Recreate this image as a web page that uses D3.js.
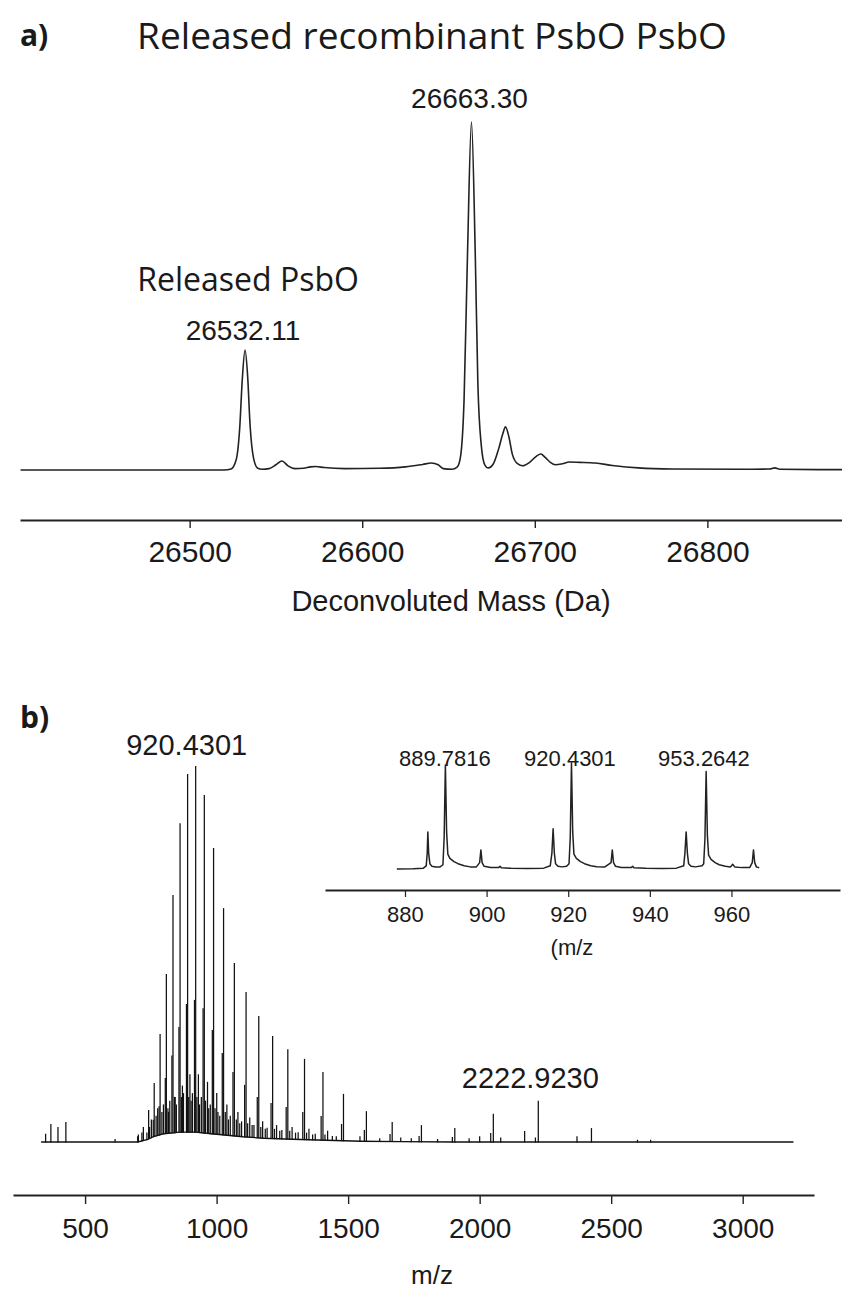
<!DOCTYPE html>
<html>
<head>
<meta charset="utf-8">
<script src="https://cdn.jsdelivr.net/npm/d3@7"></script>
<style>
  body { margin: 0; background: #fff; }
  text { fill: #1a1a1a; }
  .num { font-family: "Liberation Sans", Arial, sans-serif; }
  .cal { font-family: "Open Sans", sans-serif; }
  .axis path, .axis line { stroke: #222; }
</style>
</head>
<body>
<div id="chart"></div>
<script>
// ---- Panel a: deconvoluted spectrum, profile [mass Da, rel. intensity]
const profileA = [
  [26402, 0], [26520, 0], [26524, 0.3], [26527, 3], [26529, 12], [26530.5, 26], [26532.1, 34.5],
  [26533.6, 27], [26535, 13], [26537, 3.5], [26539.5, 0.5], [26542, 0.2], [26546, 0.4], [26550, 1.5],
  [26553.5, 2.6], [26557, 1.2], [26561, 0.4], [26566, 0.5], [26570, 0.9], [26573, 1.0], [26578, 0.7],
  [26590, 0.4], [26610, 0.5], [26625, 0.9], [26635, 1.6], [26640, 2.0], [26644, 1.5], [26647, 0.4],
  [26652, 0.2], [26655, 0.8], [26657, 4], [26659, 20], [26661, 62], [26663.3, 100], [26665.5, 62],
  [26667, 25], [26669, 7], [26671, 1.5], [26673, 0.6], [26676, 1.8], [26679, 6], [26681.5, 10.5],
  [26683, 12.4], [26685, 9.5], [26687, 4.5], [26690, 1.8], [26693, 1.2], [26697, 2.2], [26701, 4],
  [26703.5, 4.6], [26706, 3.6], [26709, 2.2], [26712, 1.5], [26716, 1.8], [26720, 2.3], [26726, 2.2],
  [26735, 2.0], [26745, 1.3], [26760, 0.6], [26780, 0.3], [26820, 0.2], [26836, 0.3], [26839, 0.6],
  [26842, 0.2], [26878, 0.1]
];
const ticksA = [26500, 26600, 26700, 26800];
const peakLabelsA = ["26532.11", "26663.30"];
const peakMassA = [26532.11, 26663.30];

// ---- Panel b: ESI spectrum as sticks [m/z] / [rel. intensity]
const mainMz = [702.7, 721.6, 741.6, 762.8, 785.2, 809.0, 834.2, 861.1, 889.78, 920.43, 953.26, 988.5,
  1026.5, 1067.5, 1112.0, 1160.3, 1213.0, 1270.7, 1334.2, 1404.3, 1482.3, 1569.4, 1667.5, 1778.6,
  1905.5, 2052.0, 2222.92, 2425.0];
const mainInt = [2, 4, 8.5, 15.7, 28.7, 44.7, 65.7, 84.8, 97.9, 100, 92.3, 78.2, 62.2, 47.6, 39.9,
  33.5, 28.2, 24.7, 22.1, 18.6, 12.8, 8.2, 5.3, 4.5, 3.7, 7.5, 11, 3.7];
const secondMz = [759.1, 781.4, 805.0, 830.1, 856.9, 885.4, 915.9, 948.6, 983.7, 1021.5, 1062.3,
  1106.5, 1154.6, 1207.0, 1264.5, 1327.6, 1397.4, 1475.0, 1561.7, 1659.3, 1769.8, 1896.2, 2042.0, 2212.0];
const secondInt = [5.9, 9.5, 17, 23, 30.6, 36.7, 37.8, 35.6, 29.8, 23.7, 18.6, 15.2, 12, 10.4, 9.3,
  8, 6.9, 4.8, 3.2, 2.1, 1.6, 1.3, 2.4, 1.2];
const thirdMz = [817, 842.5, 870, 898.6, 930.8, 965.4, 1000.5, 1039, 1081, 1126, 1175, 1228, 1287, 1351, 1422];
const thirdInt = [8, 12, 15, 18, 18, 16, 13, 10, 8, 6.5, 5.5, 4.5, 4, 3.5, 3];
// low, dense peaks filling the bottom of the envelope
const grassMz = [735, 745, 752, 770, 776, 792, 798, 815, 822, 840, 847, 866, 874, 894, 903, 908, 925,
  935, 942, 958, 970, 976, 994, 1005, 1012, 1033, 1045, 1052, 1075, 1088, 1095, 1118, 1135, 1142, 1168,
  1185, 1192, 1220, 1240, 1248, 1278, 1300, 1310, 1342, 1365, 1375, 1412, 1440, 1455];
const grassInt = [2.5, 4, 6, 7, 9, 8, 10, 9, 11, 12, 10, 12, 13, 12, 11, 13, 12, 10, 12, 11, 9, 10, 9,
  8, 7, 8, 6, 7, 6, 5, 5.5, 5, 4.5, 4.5, 4, 3.5, 3.8, 3.5, 3, 3.2, 3, 2.5, 2.6, 2.5, 2, 2.2, 2, 1.6, 1.5];
const minorMz = [350, 370, 397, 427, 614, 700, 716, 1545, 1620, 1700, 1740, 1840, 1960, 2000, 2080,
  2171, 2370, 2600, 2650];
const minorInt = [2.2, 4.8, 4, 5.3, 0.8, 1.5, 2.5, 1.5, 1, 1.2, 1, 0.8, 1, 1.5, 1.2, 2.9, 1.5, 0.6, 0.6];
// slightly raised floor under the charge-state envelope
const floorB = [
  [333, 0], [700, 0], [735, 0.6], [760, 1.4], [800, 2.2], [860, 2.6], [920, 2.6], [980, 2.2],
  [1040, 1.8], [1100, 1.4], [1180, 1.0], [1260, 0.8], [1350, 0.6], [1450, 0.4], [1550, 0.2],
  [1700, 0.1], [1900, 0], [3193, 0]
];
const ticksB = [500, 1000, 1500, 2000, 2500, 3000];
const peakLabelsB = ["920.4301", "2222.9230"];
const peakMzB = [920.43, 2222.92];

// ---- Inset: profile around 880-967 m/z
const profileInset = [
  [878, 0], [882, 0.3], [884.5, 0.8], [885.2, 3], [885.45, 15], [885.6, 35], [885.8, 15], [886.1, 5],
  [886.6, 2.5], [887.5, 1.8], [888.6, 2], [889.3, 4], [889.6, 30], [889.9, 98], [890.2, 35], [890.5, 14],
  [891, 10], [892, 7], [893, 5], [894.5, 3], [896, 2], [897.5, 2], [898.3, 6], [898.6, 18], [898.9, 6],
  [899.4, 2.5], [901, 1.5], [903, 1.5], [903.3, 2.5], [903.6, 1.2], [906, 0.6], [910, 0.5], [914, 0.8],
  [915.6, 3], [916.0, 15], [916.3, 38], [916.6, 15], [916.9, 5], [917.5, 2.5], [918.5, 2], [919.6, 2.5],
  [920.2, 5], [920.5, 30], [920.8, 100], [921.1, 35], [921.4, 14], [922, 10], [923, 7], [924, 5],
  [925.5, 3], [927, 2.2], [929, 2], [930.5, 6], [930.8, 18], [931.1, 6], [931.6, 2.5], [933, 1.5],
  [935.5, 1.5], [935.8, 2.5], [936.1, 1.2], [939, 0.6], [943, 0.5], [946.5, 0.8], [948.3, 3],
  [948.6, 15], [948.9, 35], [949.2, 15], [949.5, 5], [950.1, 2.5], [951.2, 2], [952.8, 3], [953.2, 5],
  [953.5, 28], [953.8, 92], [954.1, 32], [954.4, 13], [955, 9], [956, 6], [957, 4], [958.5, 2.5],
  [959.8, 2], [960.3, 4.5], [960.8, 2], [962.5, 1.3], [964.5, 1.5], [965.1, 6], [965.4, 18], [965.7, 6],
  [966.1, 2], [966.8, 1.2]
];
const ticksInset = [880, 900, 920, 940, 960];
const insetLabels = ["889.7816", "920.4301", "953.2642"];
const insetLabelMz = [889.78, 920.43, 953.26];

(function () {
  const W = 842, H = 1291;
  const svg = d3.select("#chart").append("svg")
    .attr("width", W).attr("height", H)
    .style("display", "block");

  // --- Panel a ---
  const xA = d3.scaleLinear().domain([26401.7, 26878]).range([20, 842]);
  const yA = d3.scaleLinear().domain([0, 100]).range([470, 122]);
  const AXIS_A_Y = 520;

  svg.append("text").attr("class", "cal")
    .attr("x", 20).attr("y", 46)
    .attr("font-size", 30).attr("font-weight", 700)
    .text("a)");

  svg.append("text").attr("class", "cal")
    .attr("x", 137).attr("y", 49)
    .attr("font-size", 37)
    .attr("textLength", 590).attr("lengthAdjust", "spacingAndGlyphs")
    .text("Released recombinant PsbO PsbO");

  svg.append("text").attr("class", "cal")
    .attr("x", xA(peakMassA[0]) + 3).attr("y", 291)
    .attr("text-anchor", "middle").attr("font-size", 32)
    .text("Released PsbO");

  peakLabelsA.forEach((t, i) => {
    svg.append("text").attr("class", "num")
      .attr("x", xA(peakMassA[i]) - 2)
      .attr("y", i === 0 ? 340 : 108)
      .attr("text-anchor", "middle").attr("font-size", 28)
      .text(t);
  });

  svg.append("path")
    .datum(profileA)
    .attr("fill", "none").attr("stroke", "#222").attr("stroke-width", 1.6)
    .attr("stroke-linejoin", "round")
    .attr("d", d3.line().x(d => xA(d[0])).y(d => yA(d[1])).curve(d3.curveMonotoneX));

  const axA = svg.append("g").attr("class", "axis num")
    .attr("transform", `translate(0,${AXIS_A_Y})`)
    .call(d3.axisBottom(xA).tickValues(ticksA).tickSize(8).tickSizeOuter(0).tickPadding(13)
      .tickFormat(d3.format("d")));
  axA.select(".domain").attr("stroke-width", 2.2);
  axA.selectAll(".tick line").attr("stroke-width", 1.4);
  axA.selectAll(".tick text").attr("font-size", 30).attr("fill", "#1a1a1a")
    .attr("font-family", "Liberation Sans, Arial, sans-serif");

  svg.append("text").attr("class", "num")
    .attr("x", 451).attr("y", 611)
    .attr("text-anchor", "middle").attr("font-size", 29)
    .text("Deconvoluted Mass (Da)");

  // --- Panel b ---
  const xB = d3.scaleLinear().domain([226, 3271]).range([13, 814]);
  const yB = d3.scaleLinear().domain([0, 100]).range([1142, 766]);
  const AXIS_B_Y = 1195;

  svg.append("text").attr("class", "cal")
    .attr("x", 20).attr("y", 728)
    .attr("font-size", 30).attr("font-weight", 700)
    .text("b)");

  svg.append("path")
    .datum(floorB)
    .attr("fill", "none").attr("stroke", "#111").attr("stroke-width", 1.3)
    .attr("d", d3.line().x(d => xB(d[0])).y(d => yB(d[1])));

  const sticks = [
    ...d3.zip(minorMz, minorInt),
    ...d3.zip(grassMz, grassInt),
    ...d3.zip(thirdMz, thirdInt),
    ...d3.zip(secondMz, secondInt),
    ...d3.zip(mainMz, mainInt)
  ];
  const floorAt = d3.scaleLinear().domain(floorB.map(d => d[0])).range(floorB.map(d => d[1]));

  // thin sticks: anti-aliasing gives the grey/black mix seen in the original
  svg.append("g").selectAll("line")
    .data(sticks)
    .join("line")
    .attr("x1", d => xB(d[0])).attr("x2", d => xB(d[0]))
    .attr("y1", d => yB(floorAt(d[0])) + 0.5)
    .attr("y2", d => yB(Math.max(d[1], floorAt(d[0]))))
    .attr("stroke", "#111").attr("stroke-width", 1.25);

  peakLabelsB.forEach((t, i) => {
    svg.append("text").attr("class", "num")
      .attr("x", xB(peakMzB[i]) - (i === 0 ? 9 : 8))
      .attr("y", i === 0 ? 755 : 1088)
      .attr("text-anchor", "middle").attr("font-size", 29)
      .text(t);
  });

  const axB = svg.append("g").attr("class", "axis num")
    .attr("transform", `translate(0,${AXIS_B_Y})`)
    .call(d3.axisBottom(xB).tickValues(ticksB).tickSize(9).tickSizeOuter(0).tickPadding(14)
      .tickFormat(d3.format("d")));
  axB.select(".domain").attr("stroke-width", 2.2);
  axB.selectAll(".tick line").attr("stroke-width", 1.4);
  axB.selectAll(".tick text").attr("font-size", 28).attr("fill", "#1a1a1a")
    .attr("font-family", "Liberation Sans, Arial, sans-serif");

  svg.append("text").attr("class", "num")
    .attr("x", 432).attr("y", 1284)
    .attr("text-anchor", "middle").attr("font-size", 26)
    .text("m/z");

  // --- Inset ---
  const xI = d3.scaleLinear().domain([860.4, 986.6]).range([325, 840]);
  const yI = d3.scaleLinear().domain([0, 100]).range([869, 763]);
  const AXIS_I_Y = 890;

  svg.append("path")
    .datum(profileInset)
    .attr("fill", "none").attr("stroke", "#222").attr("stroke-width", 1.5)
    .attr("stroke-linejoin", "round")
    .attr("d", d3.line().x(d => xI(d[0])).y(d => yI(d[1])));

  insetLabels.forEach((t, i) => {
    svg.append("text").attr("class", "num")
      .attr("x", xI(insetLabelMz[i]))
      .attr("y", 766)
      .attr("text-anchor", "middle").attr("font-size", 22)
      .text(t);
  });

  const axI = svg.append("g").attr("class", "axis num")
    .attr("transform", `translate(0,${AXIS_I_Y})`)
    .call(d3.axisBottom(xI).tickValues(ticksInset).tickSize(7).tickSizeOuter(0).tickPadding(9)
      .tickFormat(d3.format("d")));
  axI.select(".domain").attr("stroke-width", 1.8);
  axI.selectAll(".tick line").attr("stroke-width", 1.2);
  axI.selectAll(".tick text").attr("font-size", 22).attr("fill", "#1a1a1a")
    .attr("font-family", "Liberation Sans, Arial, sans-serif");

  svg.append("text").attr("class", "num")
    .attr("x", 572).attr("y", 955)
    .attr("text-anchor", "middle").attr("font-size", 22)
    .text("(m/z");
})();
</script>
</body>
</html>
